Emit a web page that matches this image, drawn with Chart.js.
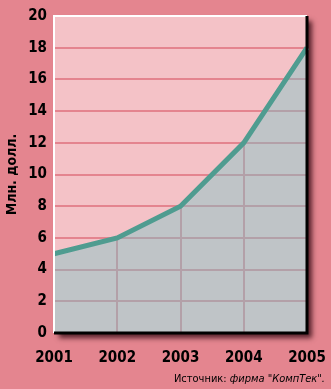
<!DOCTYPE html>
<html>
<head>
<meta charset="utf-8">
<script src="https://cdn.jsdelivr.net/npm/chart.js@4"></script>
<style>
  html, body { margin: 0; padding: 0; background: #e4858f; }
  #wrap { position: relative; width: 331px; height: 389px; }
  #source {
    position: absolute; right: 6px; top: 372px;
    font: 11px "Liberation Sans Narrow", "DejaVu Sans Condensed", sans-serif;
    color: #000; white-space: nowrap;
  }
  #source i { font-style: italic; }
</style>
</head>
<body>
<div id="wrap">
  <canvas id="chart" width="331" height="389"></canvas>
  <div id="source">Источник: <i>фирма "КомпТек".</i></div>
</div>
<script>
const years = ['2001', '2002', '2003', '2004', '2005'];
const revenue = [5, 6, 8, 12, 18];
const yTitle = 'Млн. долл.';

const fontNarrow = '"Liberation Sans Narrow", "DejaVu Sans Condensed", sans-serif';

// fond du cadre + ombre portée
const cadre = {
  id: 'cadre',
  beforeDraw(chart) {
    const { ctx, chartArea: a } = chart;
    ctx.save();
    ctx.shadowColor = 'rgba(40,0,10,0.75)';
    ctx.shadowBlur = 5;
    ctx.shadowOffsetX = 5;
    ctx.shadowOffsetY = 5;
    ctx.fillStyle = '#f4c2c7';
    ctx.fillRect(a.left, a.top, a.right - a.left, a.bottom - a.top);
    ctx.restore();
  },
  // grille mauve seulement sous la courbe
  beforeDatasetDraw(chart, args) {
    const { ctx, chartArea: a, scales } = chart;
    const pts = args.meta.data;
    ctx.save();
    ctx.beginPath();
    ctx.moveTo(pts[0].x, a.bottom);
    pts.forEach(p => ctx.lineTo(p.x, p.y));
    ctx.lineTo(pts[pts.length - 1].x, a.bottom);
    ctx.closePath();
    ctx.clip();
    ctx.strokeStyle = '#b3a0a8';
    ctx.lineWidth = 2;
    scales.y.ticks.forEach(t => {
      const y = Math.round(scales.y.getPixelForValue(t.value));
      ctx.beginPath();
      ctx.moveTo(a.left, y);
      ctx.lineTo(a.right, y);
      ctx.stroke();
    });
    years.forEach((yr, i) => {
      const x = Math.round(scales.x.getPixelForValue(i));
      ctx.beginPath();
      ctx.moveTo(x, a.top);
      ctx.lineTo(x, a.bottom);
      ctx.stroke();
    });
    ctx.restore();
  },
  afterDraw(chart) {
    const { ctx, chartArea: a } = chart;
    ctx.save();
    ctx.lineWidth = 2;
    ctx.strokeStyle = '#ffffff';
    ctx.beginPath();
    ctx.moveTo(a.left, a.bottom);
    ctx.lineTo(a.left, a.top);
    ctx.lineTo(a.right, a.top);
    ctx.stroke();
    ctx.lineWidth = 3;
    ctx.strokeStyle = '#000000';
    ctx.beginPath();
    ctx.moveTo(a.right, a.top);
    ctx.lineTo(a.right, a.bottom);
    ctx.lineTo(a.left, a.bottom);
    ctx.stroke();
    ctx.restore();
  }
};

new Chart(document.getElementById('chart'), {
  type: 'line',
  data: {
    labels: years,
    datasets: [{
      data: revenue,
      borderColor: '#4f9c90',
      borderWidth: 5,
      backgroundColor: '#bfc4c7',
      fill: 'origin',
      pointRadius: 0,
      tension: 0
    }]
  },
  options: {
    responsive: false,
    animation: false,
    layout: { padding: { top: 16, right: 24, left: 0, bottom: 0 } },
    plugins: {
      legend: { display: false },
      tooltip: { enabled: false }
    },
    scales: {
      x: {
        offset: false,
        border: { display: false },
        grid: { display: false },
        ticks: {
          color: '#000',
          padding: 8,
          maxRotation: 0,
          font: { family: fontNarrow, size: 15, weight: 'bold' }
        },
        afterFit(scale) {
          scale.height = 56;
          scale.paddingLeft = 0;
          scale.paddingRight = 0;
        }
      },
      y: {
        min: 0,
        max: 20,
        border: { display: false },
        grid: { color: '#e4848f', lineWidth: 2, drawTicks: false },
        ticks: {
          stepSize: 2,
          color: '#000',
          padding: 7,
          font: { family: fontNarrow, size: 15, weight: 'bold' }
        },
        title: {
          display: true,
          text: yTitle,
          color: '#000',
          padding: { top: 4, bottom: 0 },
          font: { family: fontNarrow, size: 14, weight: 'bold' }
        },
        afterFit(scale) {
          scale.width = 54;
          scale.paddingTop = 0;
          scale.paddingBottom = 0;
        }
      }
    }
  },
  plugins: [cadre]
});
</script>
</body>
</html>
